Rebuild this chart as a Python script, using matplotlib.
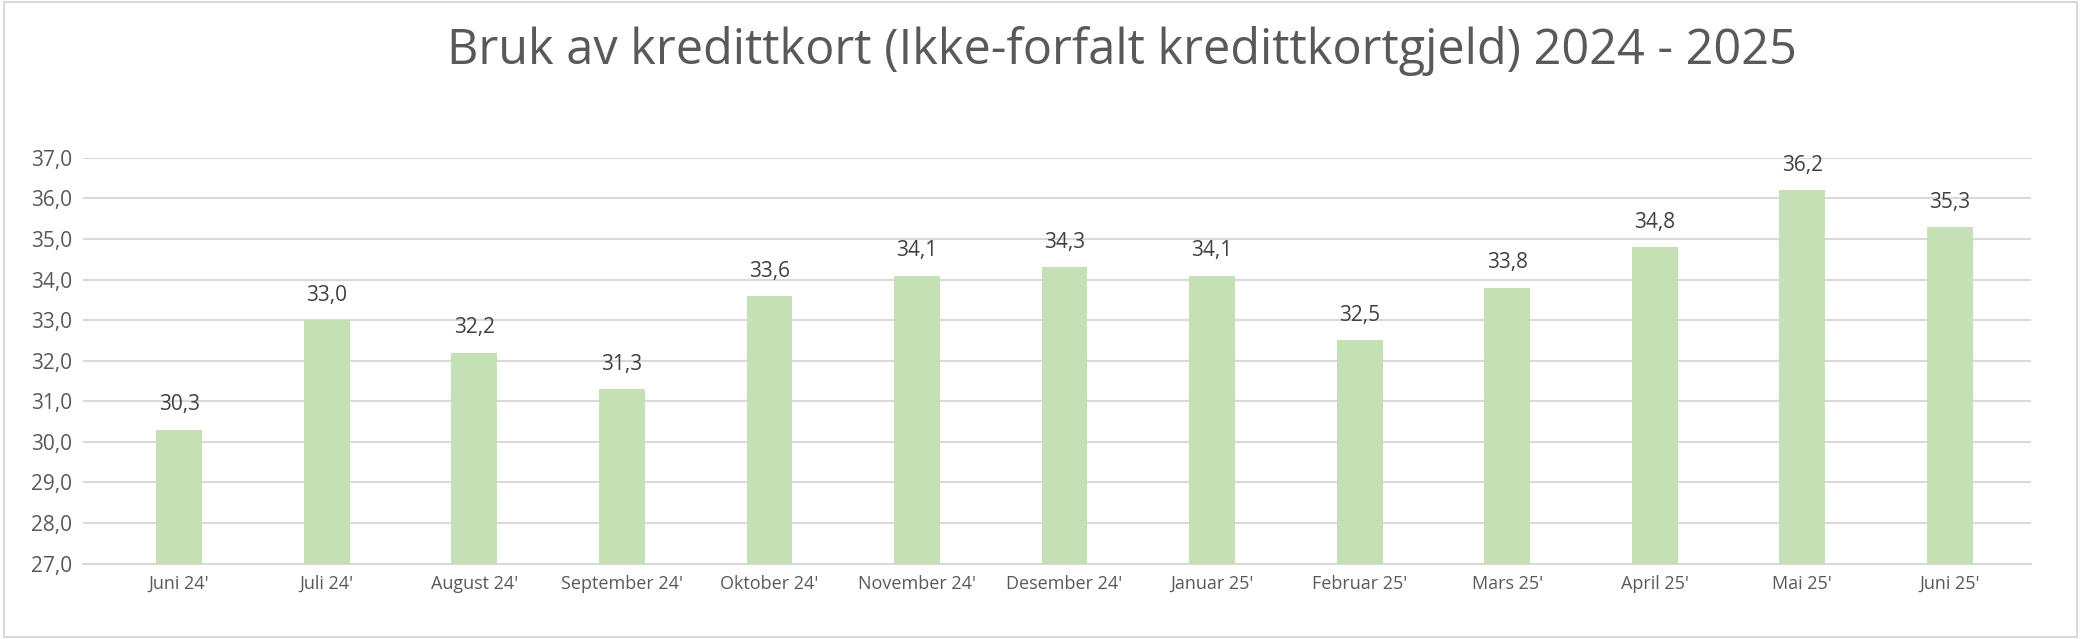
import matplotlib.pyplot as plt
from matplotlib.patches import Rectangle

months = ["Juni 24'", "Juli 24'", "August 24'", "September 24'", "Oktober 24'",
          "November 24'", "Desember 24'", "Januar 25'", "Februar 25'", "Mars 25'",
          "April 25'", "Mai 25'", "Juni 25'"]
values = [30.3, 33.0, 32.2, 31.3, 33.6, 34.1, 34.3, 34.1, 32.5, 33.8, 34.8, 36.2, 35.3]
yticks = [27, 28, 29, 30, 31, 32, 33, 34, 35, 36, 37]

plt.rcParams['font.family'] = 'Open Sans'
fig = plt.figure(figsize=(20.81, 6.39), dpi=100)
ax = fig.add_axes([0.040, 0.118, 0.936, 0.635])

x = range(len(months))
bars = ax.bar(x, values, width=0.31, color='#C5E0B4', zorder=3)
for xi, v in zip(x, values):
    ax.text(xi, v + 0.35, f"{v:.1f}".replace('.', ','), ha='center', va='bottom',
            fontsize=15, color='#404040')

ax.set_ylim(27, 37)
ax.set_xlim(-0.65, len(months) - 0.45)
ax.set_yticks(yticks)
ax.set_yticklabels([f"{t:.1f}".replace('.', ',') for t in yticks], fontsize=15, color='#595959')
ax.set_xticks(list(x))
ax.set_xticklabels(months, fontsize=13, color='#595959')
ax.grid(axis='y', color='#D9D9D9', linewidth=1.5, zorder=0)
ax.tick_params(length=0, pad=8)
for s in ['top', 'right', 'left']:
    ax.spines[s].set_visible(False)
ax.spines['bottom'].set_color('#D9D9D9')
ax.spines['bottom'].set_linewidth(1.5)

fig.text(0.539, 0.92, "Bruk av kredittkort (Ikke-forfalt kredittkortgjeld) 2024 - 2025",
         ha='center', va='center', fontsize=35, color='#595959')
fig.patches.append(Rectangle((0.002, 0.003), 0.996, 0.994, transform=fig.transFigure,
                             fill=False, edgecolor='#D9D9D9', linewidth=1.5))
fig.savefig('out.png', dpi=100)
